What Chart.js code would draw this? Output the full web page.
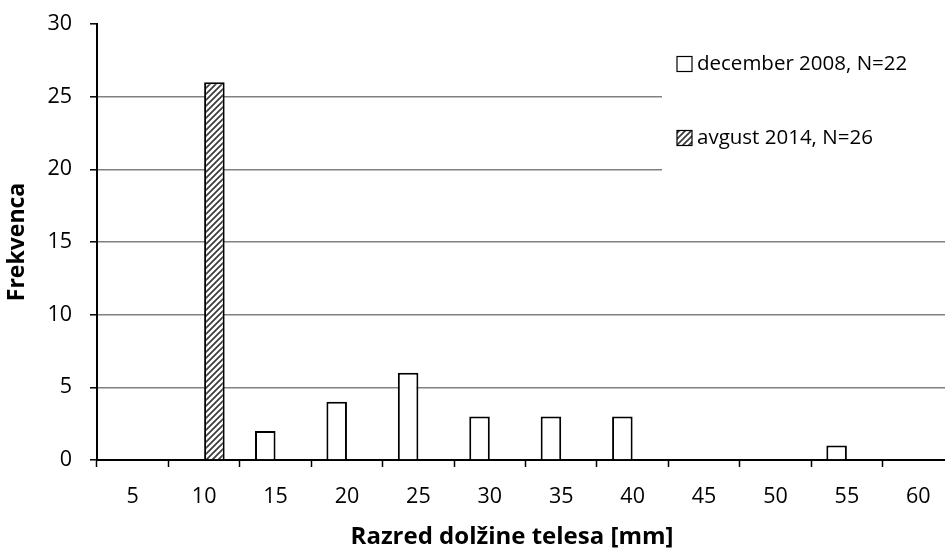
<!DOCTYPE html>
<html>
<head>
<meta charset="utf-8">
<script src="https://cdn.jsdelivr.net/npm/chart.js@4.4.1/dist/chart.umd.min.js"></script>
<style>
  html, body { margin: 0; padding: 0; overflow: hidden; background: #fff; }
  #wrap { position: relative; width: 960px; height: 548px; }
</style>
</head>
<body>
<div id="wrap"><canvas id="c"></canvas></div>
<script>
// ---- data ----
const categories = ['5', '10', '15', '20', '25', '30', '35', '40', '45', '50', '55', '60'];
const december2008 = [0, 0, 2, 4, 6, 3, 3, 3, 0, 0, 1, 0];
const avgust2014 = [0, 26, 0, 0, 0, 0, 0, 0, 0, 0, 0, 0];
const seriesLabels = ['december 2008, N=22', 'avgust 2014, N=26'];
const yMin = 0, yMax = 30, yStep = 5;
const xTitle = 'Razred dolžine telesa [mm]';
const yTitle = 'Frekvenca';

// ---- hatch pattern ----
function makeHatch() {
  const s = 6;
  const pc = document.createElement('canvas');
  pc.width = s; pc.height = s;
  const g = pc.getContext('2d');
  g.fillStyle = '#ffffff';
  g.fillRect(0, 0, s, s);
  g.strokeStyle = '#3a3a3a';
  g.lineWidth = 1.7;
  g.beginPath();
  g.moveTo(-1, s + 1); g.lineTo(s + 1, -1);
  g.moveTo(-1, 1); g.lineTo(1, -1);
  g.moveTo(s - 1, s + 1); g.lineTo(s + 1, s - 1);
  g.stroke();
  return g.createPattern(pc, 'repeat');
}
const hatch = makeHatch();
const FONT = "'Open Sans', 'Noto Sans', sans-serif";

const customDraw = {
  id: 'customDraw',
  afterDraw(chart) {
    const ctx = chart.ctx;
    ctx.save();
    // legend box (covers grid lines)
    ctx.fillStyle = '#ffffff';
    ctx.fillRect(662, 38, 300, 150);
    const items = [
      { y: 64, fill: '#ffffff' },
      { y: 138, fill: hatch }
    ];
    ctx.font = '20.5px ' + FONT;
    ctx.textBaseline = 'middle';
    ctx.textAlign = 'left';
    items.forEach((it, i) => {
      ctx.fillStyle = it.fill;
      ctx.fillRect(677, it.y - 7.5, 15, 15);
      ctx.strokeStyle = '#000';
      ctx.lineWidth = 1.2;
      ctx.strokeRect(677, it.y - 7.5, 15, 15);
      ctx.fillStyle = '#000';
      ctx.fillText(chart.data.datasets[i].label, 697, it.y);
    });
    // x axis title
    ctx.font = 'bold 24px ' + FONT;
    ctx.textAlign = 'center';
    ctx.fillText(xTitle, 512, 537);
    ctx.restore();
  }
};

new Chart(document.getElementById('c'), {
  type: 'bar',
  data: {
    labels: categories,
    datasets: [
      {
        label: seriesLabels[0],
        data: december2008,
        backgroundColor: '#ffffff',
        borderColor: '#000000',
        borderWidth: 2,
        borderSkipped: 'start',
        categoryPercentage: 0.575,
        barPercentage: 1.0
      },
      {
        label: seriesLabels[1],
        data: avgust2014,
        backgroundColor: hatch,
        borderColor: '#000000',
        borderWidth: 2,
        borderSkipped: 'start',
        categoryPercentage: 0.575,
        barPercentage: 1.0
      }
    ]
  },
  options: {
    responsive: true,
    maintainAspectRatio: false,
    animation: false,
    events: [],
    layout: { padding: { top: 24, right: 6, left: 0, bottom: 0 } },
    plugins: {
      legend: { display: false },
      tooltip: { enabled: false }
    },
    scales: {
      x: {
        offset: true,
        grid: {
          offset: true,
          drawOnChartArea: false,
          drawTicks: true,
          tickLength: 7,
          tickColor: '#000',
          tickWidth: 1.5
        },
        border: { display: true, color: '#000', width: 2 },
        ticks: {
          color: '#000',
          font: { family: FONT, size: 21.5 },
          padding: 17,
          maxRotation: 0,
          autoSkip: false
        },
        afterFit(scale) { scale.height = 88; scale.paddingLeft = 0; scale.paddingRight = 0; }
      },
      y: {
        min: yMin,
        max: yMax,
        grid: {
          color: (c) => (c.tick && (c.tick.value === yMax || c.tick.value === yMin)) ? 'rgba(0,0,0,0)' : '#808080',
          lineWidth: 1.6,
          drawTicks: true,
          tickLength: 7,
          tickColor: '#000',
          tickWidth: 1.5
        },
        border: { display: true, color: '#000', width: 2 },
        ticks: {
          stepSize: yStep,
          color: '#000',
          font: { family: FONT, size: 21.5 },
          padding: 18
        },
        title: {
          display: true,
          text: yTitle,
          color: '#000',
          font: { family: FONT, size: 23, weight: 'bold' },
          padding: { top: 4, bottom: 0 }
        },
        afterFit(scale) { scale.width = 97; scale.paddingTop = 0; scale.paddingBottom = 0; }
      }
    }
  },
  plugins: [customDraw]
});
</script>
</body>
</html>
